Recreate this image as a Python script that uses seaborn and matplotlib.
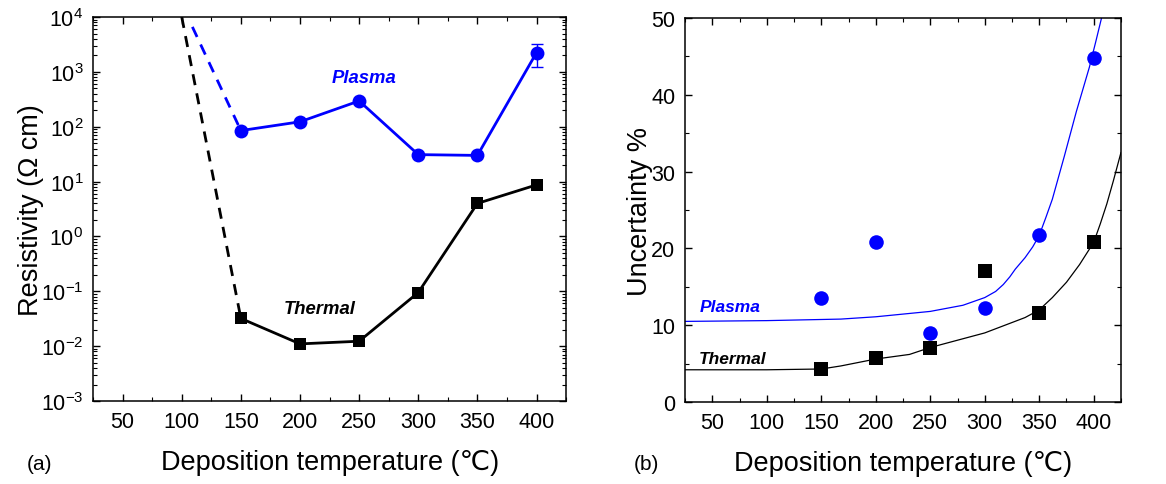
import matplotlib
matplotlib.use("Agg")
import matplotlib.pyplot as plt
import seaborn as sns
import numpy as np
import pandas as pd
from matplotlib.ticker import MultipleLocator, LogLocator, NullFormatter, FixedLocator

# ---------------- data ----------------
temps = [150, 200, 250, 300, 350, 400]

plasma_res = [85, 123, 295, 31, 30, 2240]
plasma_err_lo = [0, 0, 0, 0, 0, 1010]
plasma_err_hi = [0, 0, 0, 0, 0, 1000]
thermal_res = [0.032, 0.011, 0.0123, 0.095, 4.0, 8.7]

plasma_dash_x = [109, 150]
plasma_dash_y = [6600, 85]
thermal_dash_x = [100, 150]
thermal_dash_y = [1e4, 0.032]

plasma_unc = [13.5, 20.8, 9.0, 12.2, 21.7, 44.8]
thermal_unc = [4.3, 5.7, 7.0, 17.1, 11.6, 20.8]

plasma_fit_x = [25, 100, 168, 200, 250, 280, 300, 310, 317, 323, 328, 337, 344, 350, 356, 362, 373, 384, 396, 402, 408, 412]
plasma_fit_y = [10.5, 10.6, 10.8, 11.1, 11.8, 12.6, 13.6, 14.4, 15.3, 16.3, 17.3, 18.8, 20.2, 21.7, 24.0, 26.4, 32.0, 37.8, 43.6, 47.0, 50.5, 53.0]
thermal_fit_x = [25, 100, 150, 168, 200, 231, 250, 300, 337, 350, 362, 375, 387, 400, 406, 412, 418, 425]
thermal_fit_y = [4.2, 4.2, 4.3, 4.7, 5.6, 6.2, 7.1, 9.0, 11.0, 12.0, 13.6, 15.6, 17.9, 20.8, 23.2, 25.8, 28.8, 32.5]

xticks = [50, 100, 150, 200, 250, 300, 350, 400]
xlabel = "Deposition temperature (\u2103)"

# ---------------- style ----------------
sns.set_theme(style="ticks")
plt.rcParams["font.family"] = ["Liberation Sans", "DejaVu Sans"]
plt.rcParams["mathtext.fontset"] = "custom"
plt.rcParams["mathtext.rm"] = "Liberation Sans"
plt.rcParams["mathtext.it"] = "Liberation Sans:italic"
plt.rcParams["mathtext.bf"] = "Liberation Sans:bold"
plt.rcParams.update({
    "text.color": "black", "axes.labelcolor": "black",
    "xtick.labelcolor": "black", "ytick.labelcolor": "black",
    "xtick.direction": "in", "ytick.direction": "in",
    "xtick.top": True, "ytick.right": True,
    "xtick.major.size": 5, "ytick.major.size": 5,
    "xtick.minor.size": 3, "ytick.minor.size": 3,
    "xtick.major.width": 1.0, "ytick.major.width": 1.0,
    "xtick.minor.width": 0.8, "ytick.minor.width": 0.8,
    "axes.linewidth": 1.1,
    "axes.edgecolor": "black",
    "xtick.color": "black", "ytick.color": "black",
})

fig = plt.figure(figsize=(11.66, 4.85), dpi=100)
ax1 = fig.add_axes([0.0798, 0.1711, 0.4057, 0.7918])
ax2 = fig.add_axes([0.5875, 0.169, 0.3739, 0.7918])

TICK_FS = 15.5
LABEL_FS = 19.5

# ---------------- panel (a) ----------------
df_p = pd.DataFrame({"T": temps, "R": plasma_res})
df_t = pd.DataFrame({"T": temps, "R": thermal_res})

sns.lineplot(x=plasma_dash_x, y=plasma_dash_y, ax=ax1, color="blue", lw=2.0,
             linestyle=(0, (4, 3)), estimator=None, sort=False)
sns.lineplot(x=thermal_dash_x, y=thermal_dash_y, ax=ax1, color="black", lw=2.0,
             linestyle=(0, (4, 3)), estimator=None, sort=False)
ax1.errorbar(temps, plasma_res, yerr=[plasma_err_lo, plasma_err_hi], fmt="none",
             ecolor="blue", elinewidth=1.0, capsize=4, capthick=1.0, zorder=3)
sns.lineplot(data=df_p, x="T", y="R", ax=ax1, color="blue", lw=2.0, marker="o",
             markersize=10, markeredgewidth=0, estimator=None, sort=False, zorder=4)
sns.lineplot(data=df_t, x="T", y="R", ax=ax1, color="black", lw=2.0, marker="s",
             markersize=8.5, markeredgewidth=0, estimator=None, sort=False, zorder=4)

ax1.set_yscale("log")
ax1.set_xlim(25, 425)
ax1.set_ylim(1e-3, 1e4)
ax1.xaxis.set_major_locator(FixedLocator(xticks))
ax1.xaxis.set_minor_locator(MultipleLocator(25))
ax1.yaxis.set_major_locator(LogLocator(base=10, numticks=20))
ax1.yaxis.set_minor_locator(LogLocator(base=10, subs=np.arange(2, 10), numticks=100))
ax1.yaxis.set_minor_formatter(NullFormatter())
ax1.tick_params(axis="both", which="major", labelsize=TICK_FS, pad=7)
ax1.set_xlabel(xlabel, fontsize=LABEL_FS, va="center")
ax1.xaxis.set_label_coords(0.5, -0.159)
ax1.set_ylabel("Resistivity (\u03a9 cm)", fontsize=LABEL_FS, va="center")
ax1.yaxis.set_label_coords(-0.131, 0.5)

ax1.text(254, 776, "Plasma", color="blue", fontsize=13.3, fontstyle="italic",
         fontweight="bold", ha="center", va="center")
ax1.text(217, 0.049, "Thermal", color="black", fontsize=13.3, fontstyle="italic",
         fontweight="bold", ha="center", va="center")

# ---------------- panel (b) ----------------
sns.lineplot(x=plasma_fit_x, y=plasma_fit_y, ax=ax2, color="blue", lw=0.9,
             estimator=None, sort=False)
sns.lineplot(x=thermal_fit_x, y=thermal_fit_y, ax=ax2, color="black", lw=0.9,
             estimator=None, sort=False)
sns.scatterplot(x=temps, y=plasma_unc, ax=ax2, color="blue", marker="o", s=110,
                linewidth=0, zorder=4)
sns.scatterplot(x=temps, y=thermal_unc, ax=ax2, color="black", marker="s", s=90,
                linewidth=0, zorder=4)

ax2.set_xlim(25, 425)
ax2.set_ylim(0, 50)
ax2.xaxis.set_major_locator(FixedLocator(xticks))
ax2.xaxis.set_minor_locator(MultipleLocator(25))
ax2.yaxis.set_major_locator(MultipleLocator(10))
ax2.yaxis.set_minor_locator(MultipleLocator(5))
ax2.tick_params(axis="both", which="major", labelsize=TICK_FS, pad=7)
ax2.set_xlabel(xlabel, fontsize=LABEL_FS, va="center")
ax2.xaxis.set_label_coords(0.5, -0.159)
ax2.set_ylabel("Uncertainty %", fontsize=LABEL_FS, va="center")
ax2.yaxis.set_label_coords(-0.103, 0.5)

ax2.text(66, 12.5, "Plasma", color="blue", fontsize=12.5, fontstyle="italic",
         fontweight="bold", ha="center", va="center")
ax2.text(69, 5.7, "Thermal", color="black", fontsize=12.5, fontstyle="italic",
         fontweight="bold", ha="center", va="center")

fig.text(40 / 1166, 1 - 465 / 485, "(a)", fontsize=15, ha="center", va="center")
fig.text(646 / 1166, 1 - 465 / 485, "(b)", fontsize=15, ha="center", va="center")

fig.savefig("out.png", dpi=100)
